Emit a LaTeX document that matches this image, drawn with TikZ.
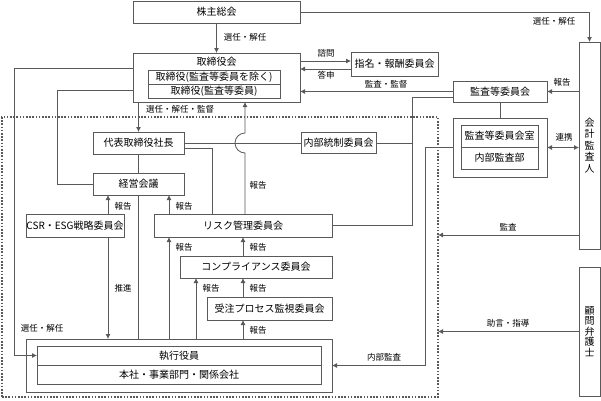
\documentclass[tikz,border=0pt]{standalone}
\usepackage{fontspec}
\setmainfont{Noto Sans CJK JP}
\usetikzlibrary{arrows.meta}
\tikzset{
	box/.style={draw=black!65, line width=0.8pt, inner sep=0pt, outer sep=0pt, font=\fontsize{10}{12}\selectfont},
	lbl/.style={font=\fontsize{8.5}{10}\selectfont, inner sep=0pt},
	conn/.style={draw=black!65, line width=0.8pt},
	arr/.style={conn, -{Latex[length=5pt,width=5pt]}},
	dbl/.style={conn, {Latex[length=5pt,width=5pt]}-{Latex[length=5pt,width=5pt]}},
	grpbox/.style={draw=black!65, line width=1.1pt, dash pattern=on 1.6pt off 1.6pt, inner sep=0pt, outer sep=0pt}
}
\begin{document}
\begin{tikzpicture}[x=1pt,y=-1pt]
	\useasboundingbox (0,0) rectangle (601,400);
	% executive group (dotted)
	\node[grpbox, minimum width=436pt, minimum height=280pt] (grp) at (220,257) {};

	% top level
	\node[box, minimum width=167pt, minimum height=22pt] (kabu) at (216.5,12) {株主総会};
	\node[box, minimum width=167pt, minimum height=49pt] (torikai) at (216.5,77.5) {};
	\node[font=\fontsize{10}{12}\selectfont, inner sep=0pt] (torikaiT) at (216.5,62) {取締役会};
	\node[box, minimum width=132pt, minimum height=14pt] (tori1) at (214,77) {取締役(監査等委員を除く)};
	\node[box, minimum width=132pt, minimum height=14pt] (tori2) at (214,91) {取締役(監査等委員)};
	\node[box, minimum width=87pt, minimum height=24pt] (shimei) at (394.5,64) {指名・報酬委員会};

	% audit side
	\node[box, minimum width=94pt, minimum height=21pt] (kansa) at (500,91.5) {監査等委員会};
	\node[box, minimum width=94pt, minimum height=59pt] (kansashitsu) at (500,147.5) {};
	\node[box, minimum width=77pt, minimum height=22pt] (ks1) at (499.5,136) {監査等委員会室};
	\node[box, minimum width=77pt, minimum height=22pt] (ks2) at (499.5,158) {内部監査部};
	\node[box, minimum width=21pt, minimum height=207pt, align=center, font=\fontsize{10}{11.5}\selectfont] (kaikei) at (589.5,145.5) {会\\計\\監\\査\\人};
	\node[box, minimum width=21pt, minimum height=129pt, align=center, font=\fontsize{10}{10.5}\selectfont] (komon) at (589.5,331.5) {顧\\問\\弁\\護\\士};

	% inside the group
	\node[box, minimum width=91pt, minimum height=22pt] (shacho) at (138.5,143) {代表取締役社長};
	\node[box, minimum width=75pt, minimum height=21pt] (naibu) at (338.5,143) {内部統制委員会};
	\node[box, minimum width=91pt, minimum height=22pt] (keiei) at (138.5,184) {経営会議};
	\node[box, minimum width=98pt, minimum height=23pt] (csr) at (75,225.5) {CSR・ESG戦略委員会};
	\node[box, minimum width=178pt, minimum height=23pt] (risk) at (243,225.5) {リスク管理委員会};
	\node[box, minimum width=152pt, minimum height=22pt] (comp) at (256,267) {コンプライアンス委員会};
	\node[box, minimum width=125pt, minimum height=23pt] (juchu) at (269.5,308.5) {受注プロセス監視委員会};
	\node[box, minimum width=306pt, minimum height=53pt] (shikko) at (179,365.5) {};
	\node[box, minimum width=284pt, minimum height=19pt] (shikko1) at (179,355.5) {執行役員};
	\node[box, minimum width=284pt, minimum height=19pt] (shikko2) at (179,374.5) {本社・事業部門・関係会社};

	% shareholders
	\draw[arr] (kabu) -- (torikai);
	\node[lbl] (l1) at (245,37) {選任・解任};
	\draw[arr] (kabu.east) -| (kaikei.north);
	\node[lbl] (l2) at (554,21) {選任・解任};

	% board
	\draw[arr] (torikai.west |- 0,68) -- (14,68) |- (shikko1.west);
	\node[lbl] (l3) at (42,328) {選任・解任};
	\draw[conn] (torikai.west |- 0,90) -- (57,90) |- (keiei.west);
	\draw[arr] (torikai.south -| shacho.north) -- (shacho.north);
	\node[lbl] (l4) at (180,109) {選任・解任・監督};
	\draw[arr] (torikai.east |- 0,61) -- (shimei.west |- 0,61);
	\node[lbl] (l5) at (326,53) {諮問};
	\draw[arr] (shimei.west |- 0,69) -- (torikai.east |- 0,69);
	\node[lbl] (l6) at (326,75) {答申};

	% audit committee
	\draw[arr] (kansa.west) -- (torikai.east |- kansa.west);
	\node[lbl] (l7) at (386,84) {監査・監督};
	\draw[conn] (kansa.west |- 0,97) -- (412,97) |- (risk.east);
	\draw[conn] (naibu.east) -- (naibu.east -| 412,0);
	\draw[conn] (kansa) -- (kansashitsu);
	\draw[arr] (kaikei.west |- kansa.east) -- (kansa.east);
	\node[lbl] (l8) at (562,82) {報告};
	\draw[dbl] (kansashitsu.east) -- (kaikei.west |- kansashitsu.east);
	\node[lbl] (l9) at (564,137) {連携};
	\draw[arr] (kansashitsu.west) -- (425,147.5) |- (shikko.east);
	\node[lbl] (l10) at (384,357) {内部監査};
	\draw[arr] (kaikei.west |- 0,235) -- (grp.east |- 0,235);
	\node[lbl] (l11) at (508,227) {監査};
	\draw[arr] (komon.west) -- (grp.east |- komon.west);
	\node[lbl] (l12) at (508,323) {助言・指導};

	% president and management
	\draw[conn] (shacho.east) -- (naibu.west);
	\draw[conn] (shacho.east |- 0,148) -| (risk.north -| 212,0);
	\draw[conn] (shacho) -- (keiei);
	\draw[conn] (keiei.south) -- (keiei.south |- shikko.north);
	\draw[arr] (risk.north -| 245,0) -- (245,153) arc[start angle=270, end angle=90, radius=10pt] -- (torikai.south -| 245,0);
	\node[lbl] (l13) at (258,185) {報告};

	% reports upward
	\draw[arr] (csr.north -| 108,0) -- (keiei.south -| 108,0);
	\node[lbl] (l14) at (123,206) {報告};
	\draw[arr] (risk.north -| 169,0) -- (keiei.south -| 169,0);
	\node[lbl] (l15) at (184,206) {報告};
	\draw[arr] (csr.south -| 108,0) -- (shikko.north -| 108,0);
	\node[lbl] (l16) at (123,288) {推進};
	\draw[arr] (shikko.north -| 169,0) -- (risk.south -| 169,0);
	\node[lbl] (l17) at (184,247) {報告};
	\draw[arr] (comp.north -| 243,0) -- (risk.south -| 243,0);
	\node[lbl] (l18) at (258,247) {報告};
	\draw[arr] (shikko.north -| 196,0) -- (comp.south -| 196,0);
	\node[lbl] (l19) at (211,288) {報告};
	\draw[arr] (juchu.north -| 243,0) -- (comp.south -| 243,0);
	\node[lbl] (l20) at (258,288) {報告};
	\draw[arr] (shikko.north -| 243,0) -- (juchu.south -| 243,0);
	\node[lbl] (l21) at (258,330) {報告};
\end{tikzpicture}
\end{document}
